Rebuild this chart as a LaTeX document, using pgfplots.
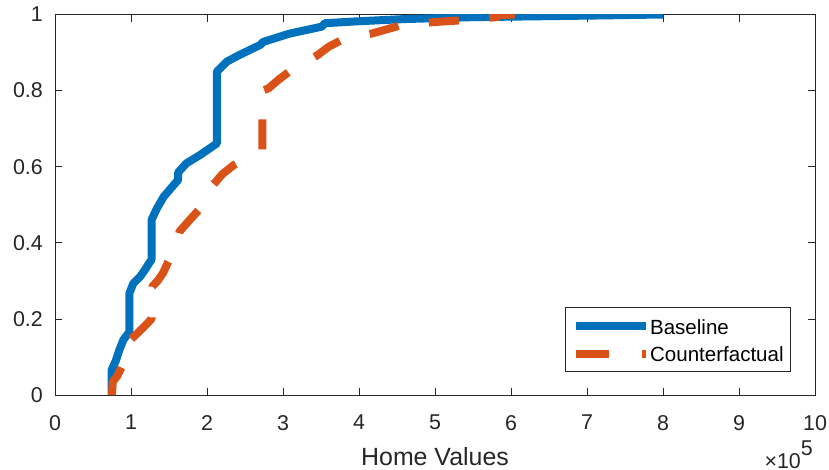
\documentclass[border=0pt]{standalone}
\usepackage{fontspec}
\setmainfont{Liberation Sans}
\usepackage{pgfplots}
\pgfplotsset{compat=1.18}
\definecolor{mblue}{rgb}{0,0.447,0.741}
\definecolor{morange}{rgb}{0.85,0.325,0.098}
\definecolor{axgray}{rgb}{0.15,0.15,0.15}
\pgfplotsset{dashlegend/.style={legend image code/.code={\draw[##1,solid] (0bp,0bp) -- (33bp,0bp); \draw[##1,solid] (66bp,0bp) -- (69.5bp,0bp);}}}
\begin{document}
\begin{tikzpicture}
\useasboundingbox (-55bp,-75bp) rectangle (774bp,395bp);
\begin{axis}[
  scale only axis, width=760bp, height=380.5bp,
  xmin=0, xmax=10, ymin=0, ymax=1,
  xtick={0,1,2,3,4,5,6,7,8,9,10},
  xticklabels={0,1,2,3,4,5,6,7,8,9,10},
  ytick={0,0.2,0.4,0.6,0.8,1},
  yticklabels={0,0.2,0.4,0.6,0.8,1},
  tick align=inside, major tick length=7.5bp,
  axis line style={axgray, line width=0.75bp},
  every tick/.style={axgray, line width=0.75bp},
  /pgf/number format/assume math mode=true,
  tick label style={font=\fontsize{21.5}{24}\selectfont, text=axgray, inner sep=0pt},
  xticklabel style={anchor=north, yshift=-20bp},
  yticklabel style={anchor=east, xshift=-12bp},
  xlabel={Home Values},
  xlabel style={at={(axis description cs:0.5,0)}, anchor=base, yshift=-70bp, inner sep=0pt, font=\fontsize{25}{28}\selectfont, text=axgray},
  legend cell align=left,
  legend image code/.code={\draw[#1] (0bp,0bp) -- (70bp,0bp);},
  legend style={at={(rel axis cs:0.9684,0.0604)}, anchor=south east,
    draw=axgray, line width=0.75bp, fill=white,
    font=\fontsize{20.6}{24}\selectfont, text=black,
    inner xsep=7bp, inner ysep=9bp, row sep=10bp,
    nodes={inner sep=0pt}},
  /tikz/every even column/.append style={column sep=5bp},
]
\addplot[mblue, line width=8bp, line join=round] coordinates {
(0.746,0) (0.746,0.066) (0.80,0.09) (0.846,0.118) (0.90,0.145) (0.965,0.162)
(0.978,0.163) (0.978,0.267) (1.03,0.293) (1.12,0.311) (1.18,0.328) (1.25,0.35)
(1.27,0.355) (1.27,0.46) (1.34,0.49) (1.43,0.521) (1.58,0.556) (1.62,0.565)
(1.62,0.585) (1.73,0.609) (1.91,0.631) (2.10,0.657) (2.13,0.661) (2.13,0.85)
(2.26,0.876) (2.43,0.894) (2.70,0.92) (2.74,0.928) (3.09,0.95) (3.51,0.968)
(3.55,0.977) (3.97,0.982) (4.6,0.988) (5.5,0.993) (6.25,0.995) (7.0,0.997) (8.0,1.0)
};
\addlegendentry{\rule{0pt}{18.5bp}Baseline}
\addplot[morange, line width=8bp, line join=round, dash pattern=on 30bp off 30.6bp, dashlegend] coordinates {
(0.75,0) (0.76,0.035) (0.82,0.05) (0.88,0.075) (0.93,0.10) (0.99,0.145)
(1.10,0.165) (1.20,0.185) (1.27,0.20) (1.28,0.285) (1.35,0.30) (1.42,0.32)
(1.49,0.35) (1.56,0.375) (1.62,0.415) (1.64,0.43) (1.75,0.455) (1.89,0.486)
(2.0,0.52) (2.08,0.552) (2.2,0.58) (2.35,0.604) (2.55,0.625) (2.73,0.645)
(2.73,0.80) (2.81,0.806) (2.95,0.83) (3.11,0.854) (3.3,0.875) (3.46,0.894)
(3.6,0.915) (3.77,0.933) (3.95,0.943) (4.17,0.95) (4.4,0.963) (4.56,0.972)
(4.8,0.977) (4.98,0.98) (5.37,0.985) (5.6,0.99) (5.81,0.993) (5.85,0.998) (6.05,1.0)
};
\addlegendentry{Counterfactual}
\end{axis}
\node[anchor=base east, inner sep=0pt, text=axgray, font=\fontsize{21.5}{24}\selectfont]
  at ([xshift=-2bp,yshift=-73bp]current axis.south east) {×10\raisebox{13bp}{5}};
\end{tikzpicture}
\end{document}
